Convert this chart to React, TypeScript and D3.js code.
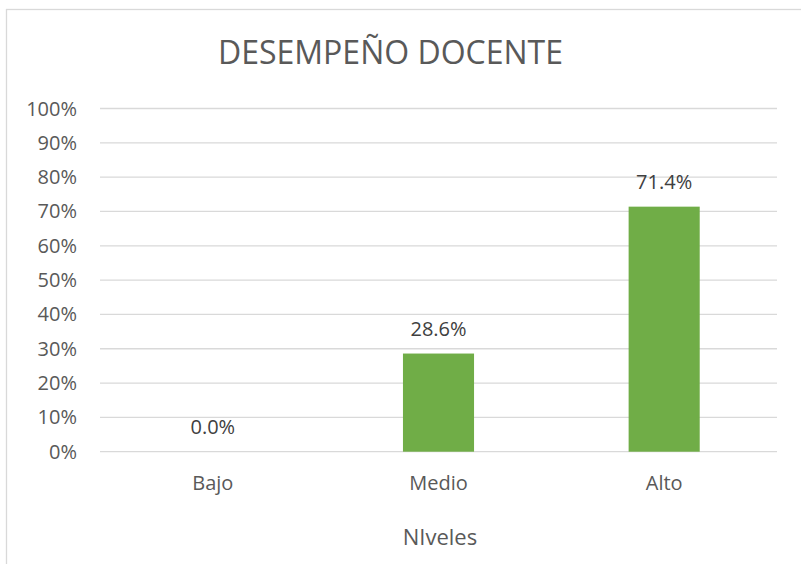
import React, { useEffect, useRef } from "react";
import * as d3 from "d3";

const categories = ["Bajo", "Medio", "Alto"];
const values = [0.0, 0.286, 0.714];
const yTicks = [0, 0.1, 0.2, 0.3, 0.4, 0.5, 0.6, 0.7, 0.8, 0.9, 1.0];
const title = "DESEMPEÑO DOCENTE";
const xTitle = "NIveles";

const W = 801;
const H = 564;
const FONT = "'Open Sans', sans-serif";
const TEXT = "#595959";
const GRID = "#D9D9D9";
const GREEN = "#70AD47";

export default function App() {
  const ref = useRef<SVGSVGElement | null>(null);

  useEffect(() => {
    const svg = d3.select(ref.current);
    svg.selectAll("*").remove();

    const left = 100, right = 777, top = 108.5, bottom = 451.7;
    const x = d3.scaleBand<string>().domain(categories).range([left, right]).paddingInner(0.685).paddingOuter(0.3425);
    const y = d3.scaleLinear().domain([0, 1]).range([bottom, top]);

    svg.append("rect").attr("x", 0).attr("y", 0).attr("width", W).attr("height", H).attr("fill", "#fff");
    svg.append("rect").attr("x", 6.5).attr("y", 9.5).attr("width", 1000).attr("height", 1000)
      .attr("fill", "none").attr("stroke", GRID).attr("stroke-width", 1.3);

    svg.append("text").attr("x", 390.5).attr("y", 64).attr("text-anchor", "middle")
      .attr("font-family", FONT).attr("font-size", 32).attr("fill", TEXT).text(title);

    const g = svg.append("g");
    g.selectAll("line.grid").data(yTicks).enter().append("line")
      .attr("x1", left).attr("x2", right)
      .attr("y1", d => y(d)).attr("y2", d => y(d))
      .attr("stroke", GRID).attr("stroke-width", 1.3);

    g.selectAll("text.ytick").data(yTicks).enter().append("text")
      .attr("x", 77).attr("y", d => y(d) + 7)
      .attr("text-anchor", "end").attr("font-family", FONT).attr("font-size", 20).attr("fill", TEXT)
      .text(d => d3.format(".0%")(d));

    g.selectAll("rect.bar").data(values).enter().append("rect")
      .attr("x", (d, i) => x(categories[i])!)
      .attr("width", x.bandwidth())
      .attr("y", d => y(d))
      .attr("height", d => bottom - y(d))
      .attr("fill", GREEN);

    g.selectAll("text.lbl").data(values).enter().append("text")
      .attr("x", (d, i) => x(categories[i])! + x.bandwidth() / 2)
      .attr("y", d => y(d) - 17.5)
      .attr("text-anchor", "middle").attr("font-family", FONT).attr("font-size", 20).attr("fill", "#404040")
      .text(d => d3.format(".1%")(d));

    g.selectAll("text.cat").data(categories).enter().append("text")
      .attr("x", d => x(d)! + x.bandwidth() / 2)
      .attr("y", 490)
      .attr("text-anchor", "middle").attr("font-family", FONT).attr("font-size", 20).attr("fill", TEXT)
      .text(d => d);

    svg.append("text").attr("x", 440).attr("y", 545).attr("text-anchor", "middle")
      .attr("font-family", FONT).attr("font-size", 22).attr("fill", TEXT).text(xTitle);
  }, []);

  return (
    <svg ref={ref} width={W} height={H} style={{ position: "fixed", left: 0, top: 0, display: "block" }} />
  );
}
